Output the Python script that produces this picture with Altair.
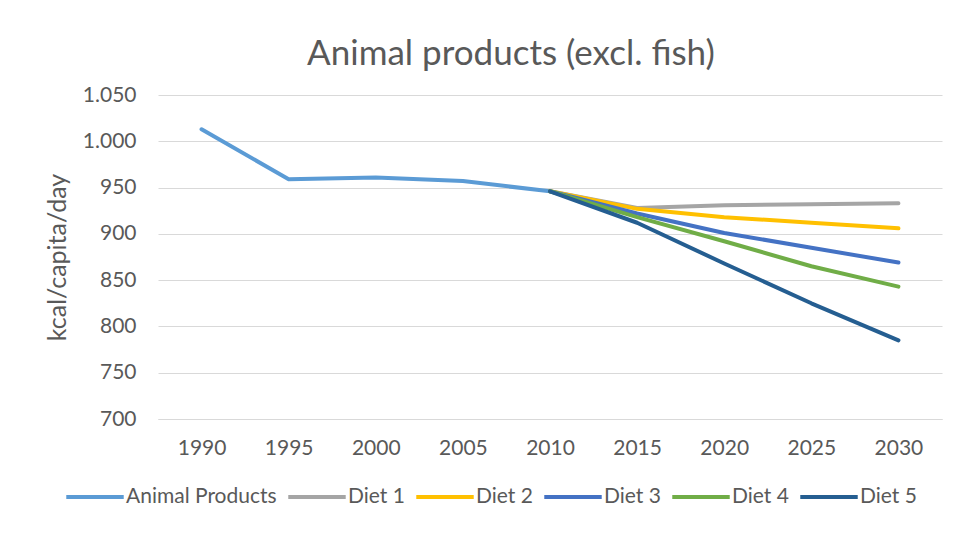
import altair as alt
import pandas as pd

years = ["1990", "1995", "2000", "2005", "2010", "2015", "2020", "2025", "2030"]
series_names = ["Animal Products", "Diet 1", "Diet 2", "Diet 3", "Diet 4", "Diet 5"]
colors = ["#5B9BD5", "#A5A5A5", "#FFC000", "#4472C4", "#70AD47", "#255E91"]

animal_products = [1013, 959, 961, 957, 946, None, None, None, None]
diet1 = [None, None, None, None, 946, 928, 931, 932, 933]
diet2 = [None, None, None, None, 946, 927, 918, 912, 906]
diet3 = [None, None, None, None, 946, 922, 901, 885, 869]
diet4 = [None, None, None, None, 946, 918, 892, 865, 843]
diet5 = [None, None, None, None, 946, 912, 868, 825, 785]

all_series = [animal_products, diet1, diet2, diet3, diet4, diet5]
rows = []
for order, (name, vals) in enumerate(zip(series_names, all_series)):
    for y, v in zip(years, vals):
        if v is not None:
            rows.append({"year": y, "value": v, "series": name, "order": order})
df = pd.DataFrame(rows)

FONT = "Lato"
GREY = "#595959"

chart = alt.Chart(df).mark_line(strokeWidth=4, strokeCap="round", strokeJoin="round").encode(
    x=alt.X("year:O", sort=years, scale=alt.Scale(type="point", padding=0.5),
            axis=alt.Axis(title=None, labelAngle=0, ticks=False, domainColor="#D9D9D9",
                          labelFontSize=21, labelColor=GREY, labelFont=FONT, labelPadding=18)),
    y=alt.Y("value:Q", scale=alt.Scale(domain=[700, 1050], nice=False, zero=False),
            axis=alt.Axis(title="kcal/capita/day", values=[700, 750, 800, 850, 900, 950, 1000, 1050],
                          labelExpr="replace(format(datum.value, ','), ',', '.')",
                          ticks=False, domain=False, gridColor="#D9D9D9",
                          labelFontSize=21, labelColor=GREY, labelFont=FONT, labelPadding=22,
                          titleFontSize=25, titleColor=GREY, titleFont=FONT, titleFontWeight="normal",
                          titlePadding=12)),
    color=alt.Color("series:N", scale=alt.Scale(domain=series_names, range=colors),
                    legend=alt.Legend(title=None, orient="none", direction="horizontal",
                                      legendX=-94, legendY=371,
                                      symbolType="stroke", symbolSize=3300, symbolStrokeWidth=4,
                                      labelFontSize=21, labelColor=GREY, labelFont=FONT,
                                      labelOffset=0, columnPadding=3)),
    order=alt.Order("order:Q"),
    detail="series:N",
).properties(
    width=784,
    height=324,
    padding={"left": 150, "top": 87, "right": 5, "bottom": 100},
    autosize=alt.AutoSizeParams(type="none"),
    title=alt.TitleParams("Animal products (excl. fish)", fontSize=35, color=GREY, font=FONT,
                          fontWeight="normal", anchor="middle", dx=-39, offset=12),
).configure_view(stroke=None)

chart.save("out.html", embed_options={"renderer": "svg", "actions": False})
